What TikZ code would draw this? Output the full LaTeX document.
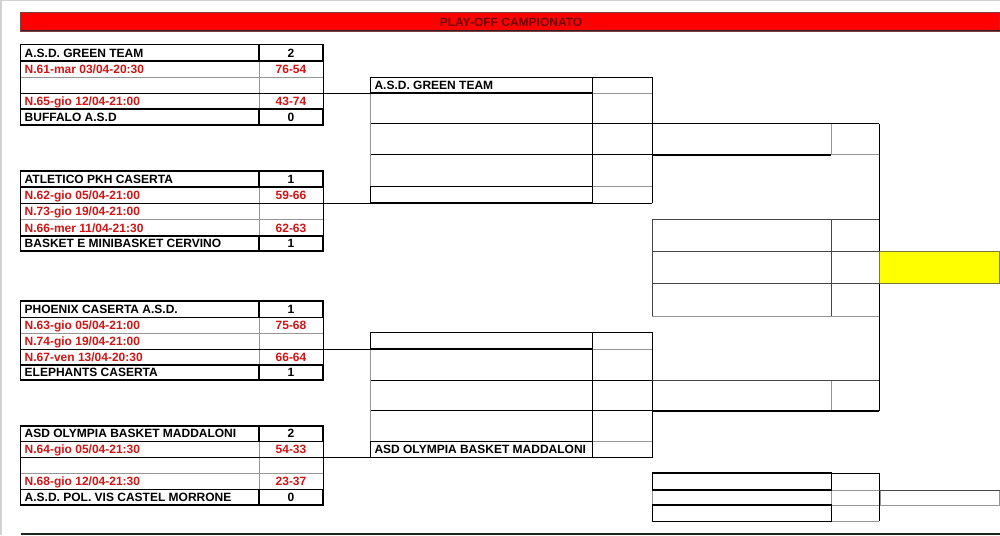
\documentclass[tikz,border=0pt]{standalone}
\usepackage{fontspec}
\setmainfont{Liberation Sans}
\definecolor{txtred}{RGB}{210,20,20}
\definecolor{ttlred}{RGB}{110,0,0}
\definecolor{gl}{RGB}{150,150,150}
\definecolor{dg}{RGB}{70,70,70}
\definecolor{yel}{RGB}{255,255,0}
\definecolor{botline}{RGB}{25,40,25}
\definecolor{titleborder}{RGB}{130,60,60}
\definecolor{yelborder}{RGB}{120,120,60}
\newcommand\fnt{\fontsize{12}{13}\selectfont\bfseries}
\tikzset{
  thk/.style={line width=1.4pt, black},
  thn/.style={line width=1pt, black},
  gry/.style={line width=0.9pt, gl},
  dgl/.style={line width=0.9pt, dg},
  tname/.style={anchor=base west, inner sep=0pt, font=\fnt},
  tscore/.style={anchor=base, inner sep=0pt, font=\fnt},
}
% left group frame: six row boundaries
\newcommand\lgframe[6]{%
  \draw[gry] (20.7,#3)--(323,#3) (20.7,#4)--(323,#4) (259,#2)--(259,#5);
  \draw[thn] (20.7,#2)--(20.7,#5) (323,#2)--(323,#5);
  \draw[thk] (20.7,#1) rectangle (323,#2) (259,#1)--(259,#2);
  \draw[thk] (20.7,#5) rectangle (323,#6) (259,#5)--(259,#6);
}
% semi-final frame
\newcommand\sfframe[6]{%
  \draw[gry] (370.7,#2)--(370.7,#5) (592.3,#2)--(652.3,#2) (592.3,#5)--(652.3,#5);
  \draw[thn] (592.3,#1)--(592.3,#6) (652.3,#1)--(652.3,#6)
             (592.3,#1)--(652.3,#1) (592.3,#6)--(652.3,#6)
             (370.7,#3)--(652.3,#3) (370.7,#4)--(652.3,#4) (370.7,#5)--(592.3,#5);
  \draw[thk] (370.7,#1) rectangle (592.3,#2);
  \draw[thk] (370.7,#5) rectangle (592.3,#6);
}
\begin{document}
\begin{tikzpicture}[x=1pt,y=-1pt]
\useasboundingbox (0,0) rectangle (1000,535);
\fill[white] (0,0) rectangle (1000,535);
\draw[line width=1.5pt, black!18] (0,0.75)--(1000,0.75) (0.9,0)--(0.9,535);

% title bar
\draw[fill=red, draw=titleborder, line width=0.9pt] (20.7,12.7) rectangle (999,31);
\draw[line width=1pt, black!85] (20.7,31)--(1000,31);
\node[tscore, text=ttlred] (title) at (511,26.6) {PLAY-OFF CAMPIONATO};

% ---------- group 1
\lgframe{44.5}{61}{77}{93}{109}{125}
\node[tname] (g1n1) at (24.5,57.2) {A.S.D. GREEN TEAM};
\node[tscore] (g1s1) at (291,57.2) {2};
\node[tname, text=txtred] (g1n2) at (24.5,73.2) {N.61-mar 03/04-20:30};
\node[tscore, text=txtred] (g1s2) at (291,73.2) {76-54};
\node[tname, text=txtred] (g1n4) at (24.5,105.2) {N.65-gio 12/04-21:00};
\node[tscore, text=txtred] (g1s4) at (291,105.2) {43-74};
\node[tname] (g1n5) at (24.5,121.2) {BUFFALO A.S.D};
\node[tscore] (g1s5) at (291,121.2) {0};

% ---------- group 2
\lgframe{171}{187}{203}{219.5}{236}{251}
\node[tname] (g2n1) at (24.5,183.2) {ATLETICO PKH CASERTA};
\node[tscore] (g2s1) at (291,183.2) {1};
\node[tname, text=txtred] (g2n2) at (24.5,199.2) {N.62-gio 05/04-21:00};
\node[tscore, text=txtred] (g2s2) at (291,199.2) {59-66};
\node[tname, text=txtred] (g2n3) at (24.5,215.7) {N.73-gio 19/04-21:00};
\node[tname, text=txtred] (g2n4) at (24.5,232.2) {N.66-mer 11/04-21:30};
\node[tscore, text=txtred] (g2s4) at (291,232.2) {62-63};
\node[tname] (g2n5) at (24.5,247.4) {BASKET E MINIBASKET CERVINO};
\node[tscore] (g2s5) at (291,247.4) {1};

% ---------- group 3
\lgframe{301}{317.5}{333.3}{349}{365}{380}
\node[tname] (g3n1) at (24.5,313.2) {PHOENIX CASERTA A.S.D.};
\node[tscore] (g3s1) at (291,313.2) {1};
\node[tname, text=txtred] (g3n2) at (24.5,329.5) {N.63-gio 05/04-21:00};
\node[tscore, text=txtred] (g3s2) at (291,329.5) {75-68};
\node[tname, text=txtred] (g3n3) at (24.5,345.3) {N.74-gio 19/04-21:00};
\node[tname, text=txtred] (g3n4) at (24.5,361.3) {N.67-ven 13/04-20:30};
\node[tscore, text=txtred] (g3s4) at (291,361.3) {66-64};
\node[tname] (g3n5) at (24.5,376.8) {ELEPHANTS CASERTA};
\node[tscore] (g3s5) at (291,376.8) {1};

% ---------- group 4
\lgframe{426}{441.7}{457.5}{473.3}{489.3}{505}
\node[tname] (g4n1) at (24.5,437.6) {ASD OLYMPIA BASKET MADDALONI};
\node[tscore] (g4s1) at (291,437.6) {2};
\node[tname, text=txtred] (g4n2) at (24.5,453.7) {N.64-gio 05/04-21:30};
\node[tscore, text=txtred] (g4s2) at (291,453.7) {54-33};
\node[tname, text=txtred] (g4n4) at (24.5,485.5) {N.68-gio 12/04-21:30};
\node[tscore, text=txtred] (g4s4) at (291,485.5) {23-37};
\node[tname] (g4n5) at (24.5,501.1) {A.S.D. POL. VIS CASTEL MORRONE};
\node[tscore] (g4s5) at (291,501.1) {0};

% ---------- connectors group -> semi-final
\coordinate (c1a) at (20.7,93);    \coordinate (c1b) at (370.7,93);
\coordinate (c2a) at (20.7,203);   \coordinate (c2b) at (370.7,203);
\coordinate (c3a) at (20.7,349);   \coordinate (c3b) at (370.7,349);
\coordinate (c4a) at (20.7,457.5); \coordinate (c4b) at (370.7,457.5);
\draw[thn] (c1a)--(c1b) (c2a)--(c2b) (c3a)--(c3b) (c4a)--(c4b);

% ---------- semi-finals
\sfframe{77.3}{93}{123.8}{154.8}{186.7}{203}
\node[tname] (sf1) at (374.3,89) {A.S.D. GREEN TEAM};
\sfframe{332.3}{349}{380.3}{410.8}{441.7}{457.5}
\node[tname] (sf2) at (374.3,453.2) {ASD OLYMPIA BASKET MADDALONI};

% ---------- third round boxes
\draw[gry] (831.3,123.8)--(831.3,154.8) (831.3,154.8)--(879,154.8);
\draw[thn] (652.3,123.8)--(879,123.8);
\draw[thk] (652.3,154.8)--(831.3,154.8);
\draw[gry] (831.3,380.3)--(831.3,410.8);
\draw[dgl] (652.3,380.3)--(879,380.3);
\draw[thk] (652.3,410.8)--(879,410.8);

% ---------- final rows
\draw[dgl] (652.3,219)--(879,219) (652.3,251.3)--(879,251.3) (652.3,283.3)--(879,283.3)
           (652.3,219)--(652.3,316.3) (831.3,219)--(831.3,316.3);
\draw[gry] (652.3,316.3)--(879,316.3);
\coordinate (vt) at (879,123.8);
\coordinate (vb) at (879,410.8);
\draw[thn] (vt)--(vb);
\draw[fill=yel, draw=yelborder, line width=1pt] (879.8,251.8) rectangle (999,283);

% ---------- third place rows
\draw[gry] (652.3,490)--(652.3,505) (831.3,490)--(879,490) (831.3,505)--(879,505)
           (831.3,490)--(831.3,505) (831.3,521.3)--(879,521.3)
           (652.3,490)--(831.3,490) (652.3,505)--(831.3,505);
\draw[thn] (831.3,473)--(879,473) (879,473)--(879,521.3) (831.3,473)--(831.3,490) (831.3,505)--(831.3,521.3);
\draw[thk] (652.3,473) rectangle (831.3,490);
\draw[thk] (652.3,505) rectangle (831.3,521.3);
\draw[gry] (880,490.5) rectangle (999,505);
\draw[line width=1pt, dg] (879,490)--(1000,490);

% bottom rule
\draw[line width=1.6pt, draw=botline] (20.7,533.8)--(1000,533.8);
\end{tikzpicture}
\end{document}
